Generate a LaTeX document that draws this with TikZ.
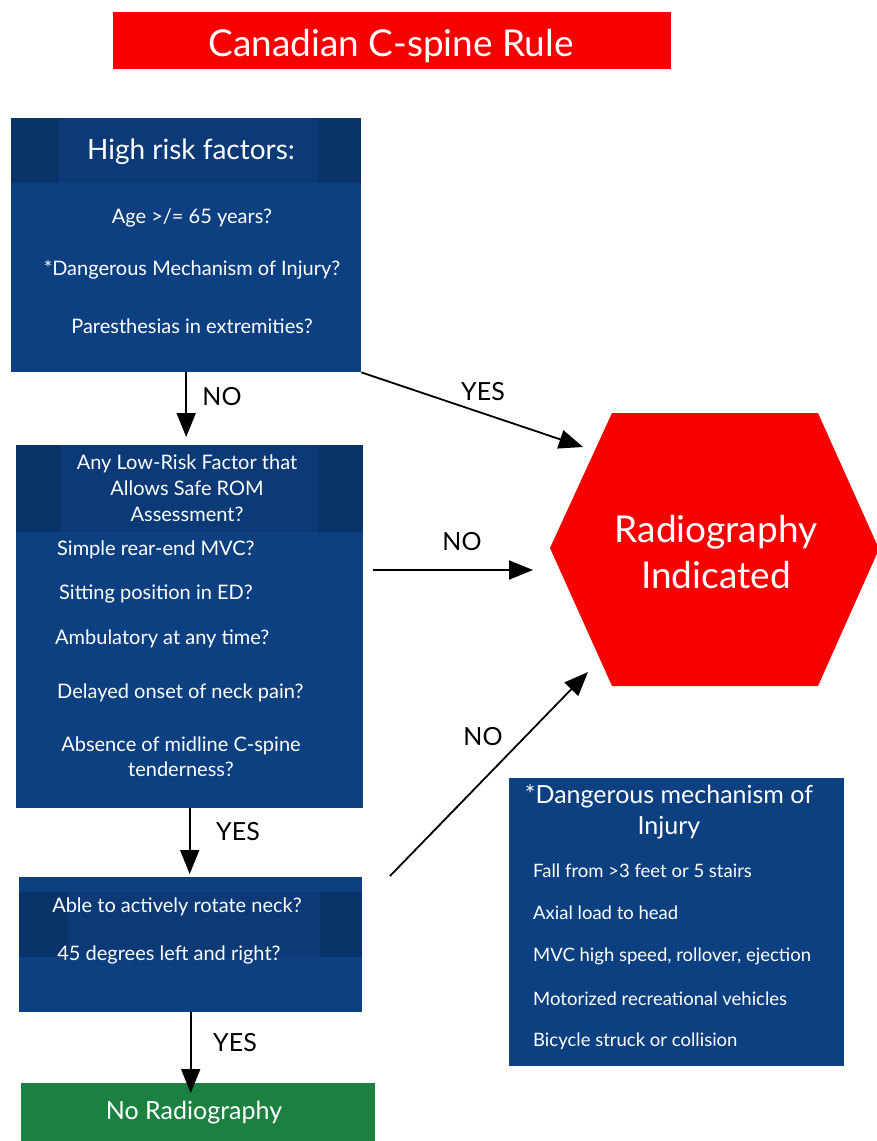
\documentclass[tikz,border=0pt]{standalone}
\usepackage{fontspec}
\setmainfont{Lato}
\usetikzlibrary{arrows.meta}
\definecolor{navy}{HTML}{0D4080}
\definecolor{navyhead}{HTML}{0B3A76}
\definecolor{navyside}{HTML}{0A336A}
\definecolor{alarm}{HTML}{F80000}
\definecolor{okgreen}{HTML}{1B8040}
\tikzset{
  panel/.style={fill=navy, draw=none, anchor=north west, inner sep=0pt},
  headband/.style={fill=navyhead},
  headside/.style={fill=navyside},
  txt/.style={text=white, inner sep=0pt, font=\fontsize{20}{27}\selectfont},
  itemtxt/.style={txt, anchor=west},
  listtxt/.style={itemtxt, font=\fontsize{18.5}{22}\selectfont},
  flow/.style={line width=1.8pt, -{Triangle[length=24pt,width=19pt]}},
  lbl/.style={text=black, inner sep=0pt, font=\fontsize{25}{30}\selectfont}
}
\begin{document}
\begin{tikzpicture}[x=1pt, y=-1pt]
\useasboundingbox (0,0) rectangle (877,1141);
\fill[white] (0,0) rectangle (877,1141);

% title banner
\node[fill=alarm, minimum width=558pt, minimum height=57pt, anchor=north west, inner sep=0pt] (title) at (113,12) {};
\node[text=white, font=\fontsize{37}{42}\selectfont, inner sep=0pt] at (391,46) {Canadian C-spine Rule};

% high risk factors
\node[panel, minimum width=350pt, minimum height=254pt] (hr) at (11,118) {};
\fill[headband] (11,118) rectangle (361,183);
\fill[headside] (11,118) rectangle (59,183);
\fill[headside] (318,118) rectangle (361,183);
\node[txt, font=\fontsize{28}{32}\selectfont] at (191,152) {High risk factors:};
\node[txt] at (192,218) {Age >/= 65 years?};
\node[txt] at (192,270) {*Dangerous Mechanism of Injury?};
\node[txt] at (192,326) {Paresthesias in extremities?};

% low risk factors
\node[panel, minimum width=347pt, minimum height=363pt] (lr) at (16,445) {};
\fill[headband] (16,445) rectangle (363,532);
\fill[headside] (16,445) rectangle (61,532);
\fill[headside] (318,445) rectangle (363,532);
\node[txt, align=center, font=\fontsize{20}{26}\selectfont] at (187,488) {Any Low-Risk Factor that\\Allows Safe ROM\\Assessment?};
\node[itemtxt] at (57,550) {Simple rear-end MVC?};
\node[itemtxt] at (59,594) {Sitting position in ED?};
\node[itemtxt] at (55,639) {Ambulatory at any time?};
\node[itemtxt] at (57,693) {Delayed onset of neck pain?};
\node[txt, align=center, font=\fontsize{20}{25}\selectfont] at (181,757) {Absence of midline C-spine\\tenderness?};

% neck rotation
\node[panel, minimum width=343pt, minimum height=135pt] (rot) at (19,877) {};
\fill[headband] (19,892) rectangle (362,957);
\fill[headside] (19,892) rectangle (68,957);
\fill[headside] (320,892) rectangle (362,957);
\node[txt] at (177,907) {Able to actively rotate neck?};
\node[txt] at (169,955) {45 degrees left and right?};

% no radiography
\node[fill=okgreen, minimum width=354pt, minimum height=70pt, anchor=north west, inner sep=0pt] (noray) at (21,1083) {};
\node[txt, font=\fontsize{25}{30}\selectfont] at (194,1113) {No Radiography};

% radiography indicated
\fill[alarm] (550,548) -- (612,413) -- (818,413) -- (879,549) -- (818,686) -- (612,686) -- cycle;
\node[txt, align=center, font=\fontsize{37}{46}\selectfont] (ray) at (716,552) {Radiography\\Indicated};

% dangerous mechanism list
\node[panel, minimum width=335pt, minimum height=288pt] (dm) at (509,778) {};
\node[txt, align=center, font=\fontsize{25}{31}\selectfont] at (669,812) {*Dangerous mechanism of\\Injury};
\node[listtxt] at (533,871) {Fall from >3 feet or 5 stairs};
\node[listtxt] at (533,913) {Axial load to head};
\node[listtxt] at (533,956) {MVC high speed, rollover, ejection};
\node[listtxt] at (533,999) {Motorized recreational vehicles};
\node[listtxt] at (533,1041) {Bicycle struck or collision};

% connector end points
\coordinate (yesin) at (583,447);
\coordinate (noout) at (373,570);
\coordinate (noin) at (533,570);
\coordinate (rotout) at (390,876);
\coordinate (rotin) at (588,672);

% connectors
\draw[flow] (hr.south) -- ([yshift=8pt]hr.south |- lr.north);
\draw[flow] (hr.south east) -- (yesin);
\draw[flow] (noout) -- (noin);
\draw[flow] (lr.south) -- ([yshift=3pt]lr.south |- rot.north);
\draw[flow] (rotout) -- (rotin);
\draw[flow] (rot.south) -- ([yshift=-10pt]rot.south |- noray.north);

% connector labels
\node[lbl] at (222,397) {NO};
\node[lbl] at (483,392) {YES};
\node[lbl] at (462,542) {NO};
\node[lbl] at (483,737) {NO};
\node[lbl] at (238,832) {YES};
\node[lbl] at (235,1043) {YES};
\end{tikzpicture}
\end{document}
